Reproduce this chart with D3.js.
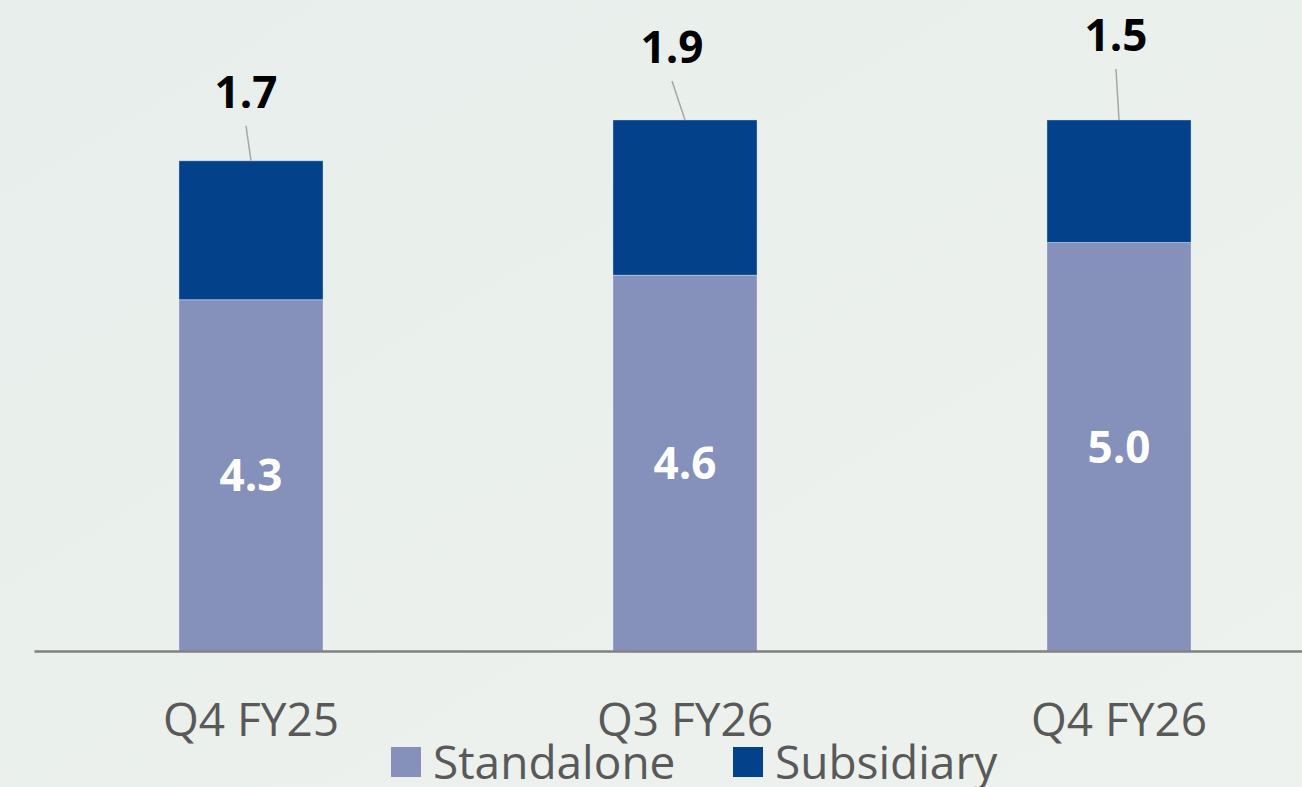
<!DOCTYPE html>
<html>
<head>
  <title>standalone vs subsidiary</title>
  <script src="https://d3js.org/d3.v7.min.js"></script>
  <style>
    html, body { margin: 0; padding: 0; background: #ebf0ed; overflow: hidden; }
    svg { display: block; font-family: "Open Sans", sans-serif; }
  </style>
</head>
<body>
  <div id="chart"></div>
  <script type="text/javascript">
    var categories = ["Q4 FY25", "Q3 FY26", "Q4 FY26"]
    var standalone = [4.3, 4.6, 5.0]
    var subsidiary = [1.7, 1.9, 1.5]
    var seriesNames = ["Standalone", "Subsidiary"]
    var colors = ["#8591bb", "#03428b"]
    // where the top labels sit relative to the top of each stack (leader line goes between)
    var labelOffsets = [[-5, -53], [-13, -57], [-3, -69]]

    var width = 1302, height = 787
    var baseY = 651

    var svg = d3.select("#chart").append("svg")
      .attr("width", width).attr("height", height)

    var defs = svg.append("defs")
    var grad = defs.append("linearGradient").attr("id", "bg")
      .attr("x1", "0").attr("y1", "0").attr("x2", "1").attr("y2", "1")
    grad.append("stop").attr("offset", "0").attr("stop-color", "#e8eeeb")
    grad.append("stop").attr("offset", "1").attr("stop-color", "#edf2ee")
    svg.append("rect").attr("width", width).attr("height", height).attr("fill", "url(#bg)")

    var x = d3.scaleBand()
      .domain(categories)
      .range([34, 1336])
      .paddingInner(0.668)
      .paddingOuter(0.334)

    var y = d3.scaleLinear()
      .domain([0, 8])
      .range([baseY, baseY - 8 * 81.7])

    var rows = categories.map((c, i) => ({ cat: c, s: standalone[i], b: subsidiary[i] }))
    var stack = d3.stack().keys(["s", "b"])(rows)

    var layers = svg.selectAll("g.layer")
      .data(stack)
      .enter()
      .append("g")
      .attr("class", "layer")
      .attr("fill", (d, i) => colors[i])

    layers.selectAll("rect")
      .data(d => d)
      .enter()
      .append("rect")
      .attr("x", d => x(d.data.cat))
      .attr("y", d => y(d[1]))
      .attr("width", x.bandwidth())
      .attr("height", d => y(d[0]) - y(d[1]))
      .attr("stroke", "rgba(255,255,255,0.35)")
      .attr("stroke-width", 1)

    // axis
    var axis = svg.append("g")
      .attr("transform", "translate(0," + baseY + ")")
      .call(d3.axisBottom(x).tickSize(0))
    axis.select(".domain").attr("stroke", "#808080").attr("stroke-width", 2.5)
    axis.selectAll(".tick text")
      .attr("y", 85).attr("dy", 0)
      .attr("fill", "#595959")
      .style("font-size", "46px")
      .style("font-family", "'Open Sans', sans-serif")

    // standalone labels inside the bars
    svg.append("g").selectAll("text")
      .data(stack[0])
      .enter()
      .append("text")
      .attr("x", d => x(d.data.cat) + x.bandwidth() / 2)
      .attr("y", d => (y(d[0]) + y(d[1])) / 2 + 16)
      .attr("text-anchor", "middle")
      .attr("fill", "#ffffff")
      .attr("font-weight", "bold")
      .style("font-size", "44px")
      .text(d => d.data.s.toFixed(1))

    // subsidiary labels above, with leader lines
    var tops = svg.append("g").selectAll("g")
      .data(stack[1])
      .enter()
      .append("g")

    tops.append("line")
      .attr("x1", d => x(d.data.cat) + x.bandwidth() / 2)
      .attr("y1", d => y(d[1]))
      .attr("x2", (d, i) => x(d.data.cat) + x.bandwidth() / 2 + labelOffsets[i][0])
      .attr("y2", (d, i) => y(d[1]) + labelOffsets[i][1] + 18)
      .attr("stroke", "#a6a6a6")
      .attr("stroke-width", 1.5)

    tops.append("text")
      .attr("x", (d, i) => x(d.data.cat) + x.bandwidth() / 2 + labelOffsets[i][0])
      .attr("y", (d, i) => y(d[1]) + labelOffsets[i][1])
      .attr("text-anchor", "middle")
      .attr("fill", "#000000")
      .attr("font-weight", "bold")
      .style("font-size", "44px")
      .text(d => d.data.b.toFixed(1))

    // legend
    var legendX = [391, 733]
    var legend = svg.append("g").selectAll("g")
      .data(seriesNames)
      .enter()
      .append("g")
      .attr("transform", (d, i) => "translate(" + legendX[i] + ",747)")
    legend.append("rect")
      .attr("width", 30).attr("height", 30)
      .attr("fill", (d, i) => colors[i])
    legend.append("text")
      .attr("x", 42).attr("y", 32)
      .attr("fill", "#595959")
      .style("font-size", "46px")
      .text(d => d)
  </script>
</body>
</html>
